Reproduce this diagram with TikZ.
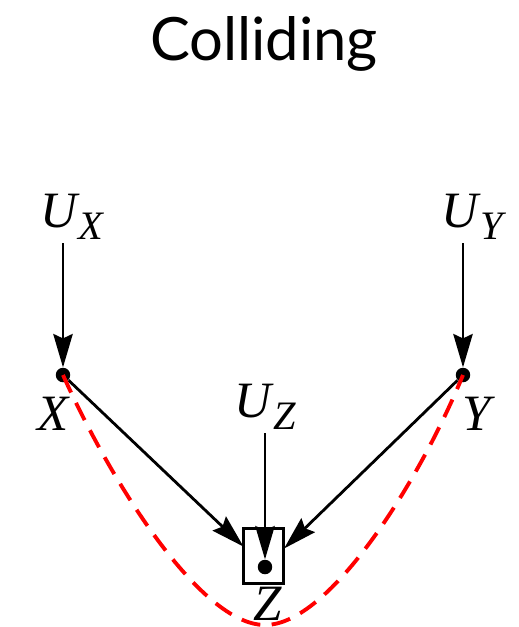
\documentclass[tikz,border=0pt]{standalone}
\usepackage{fontspec}
\setmainfont{Liberation Serif}
\newfontfamily\varfont{Liberation Serif}
\newfontfamily\titlefont{Lato}
\usetikzlibrary{arrows.meta, positioning}

\begin{document}
\begin{tikzpicture}[
    x=0.02cm, y=-0.02cm,
    every node/.style={font=\varfont\fontsize{29}{30}\selectfont},
    var/.style={anchor=base, inner sep=2pt},
    dot/.style={circle, fill=black, inner sep=0pt, minimum size=0.29cm},
    arr/.style={line width=1.6pt, -{Stealth[length=19pt, width=11pt, inset=2.5pt]}},
    zframe/.style={draw, line width=2.2pt, minimum width=0.8cm, minimum height=1.1cm, inner sep=0pt},
    collide/.style={red, line width=2.2pt, dash pattern=on 11pt off 6.5pt}
  ]
    \useasboundingbox (0,0) rectangle (519,627);

    % title
    \node[anchor=base, font=\titlefont\fontsize{34}{36}\selectfont] (title) at (264,60) {Colliding};

    % exogenous variables
    \node[var] (ux) at (72,227) {\itshape U\raisebox{-7pt}{\fontsize{23}{24}\selectfont\kern1pt X}};
    \node[var] (uy) at (472,227) {\itshape U\raisebox{-7pt}{\fontsize{23}{24}\selectfont\kern1pt Y}};
    \node[var] (uz) at (265,417) {\itshape U\raisebox{-7pt}{\fontsize{23}{24}\selectfont\kern1pt Z}};

    % endogenous variables
    \node[dot] (x) at (63,375) {};
    \node[var] (xlab) at (53,430) {\itshape X};
    \node[dot] (y) at (463,375) {};
    \node[var] (ylab) at (477,430) {\itshape Y};
    \node[zframe] (zbox) at (263.5,556) {};
    \node[dot] (z) at (265,567) {};
    \node[var] (zlab) at (268,620) {\itshape Z};

    % arrows
    \draw[arr] (x |- ux.south) -- (x);
    \draw[arr] (y |- uy.south) -- (y);
    \draw[arr] (z |- uz.south) -- (z);
    \draw[arr, shorten >=0.44cm] (x) -- (z);
    \draw[arr, shorten >=0.38cm] (y) -- (z);

    % path through the collider
    \draw[collide] (x.center) .. controls (110,480) and (200,625) .. (265,625)
      .. controls (330,625) and (420,480) .. (y.center);
\end{tikzpicture}
\end{document}
